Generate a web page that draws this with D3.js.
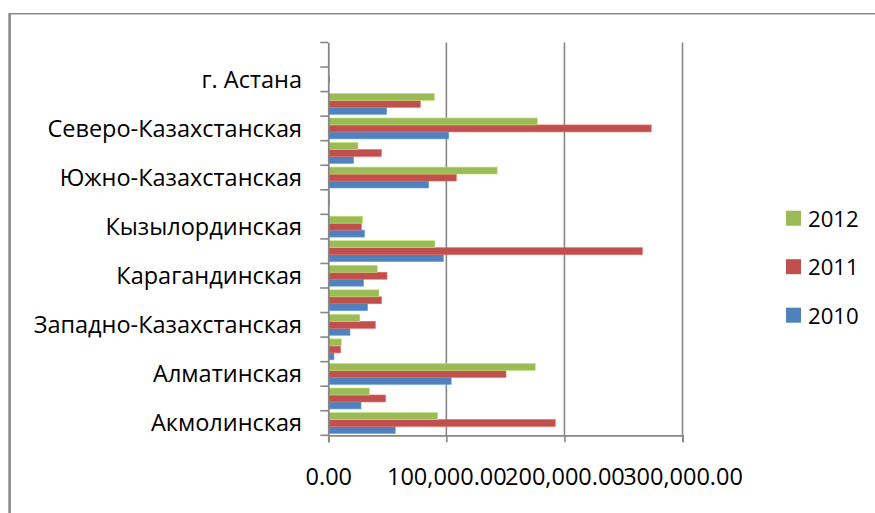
<!DOCTYPE html>
<html>
<head>
<meta charset="utf-8">
<script src="https://cdn.jsdelivr.net/npm/d3@7"></script>
<style>
  html, body { margin: 0; padding: 0; background: #fff; }
  svg { display: block; }
  text { font-family: "Open Sans", "Noto Sans", sans-serif; fill: #000; }
</style>
</head>
<body>
<svg id="chart" width="875" height="513"></svg>
<script>
// Categories, bottom to top (as in the original chart)
const categories = [
  "Акмолинская", "Актюбинская", "Алматинская", "Атырауская",
  "Западно-Казахстанская", "Жамбылская", "Карагандинская", "Костанайская",
  "Кызылординская", "Мангистауская", "Южно-Казахстанская", "Павлодарская",
  "Северо-Казахстанская", "Восточно-Казахстанская", "г. Астана", "г. Алматы"
];
const seriesNames = ["2010", "2011", "2012"];
const values2010 = [56700, 27700, 104100, 4800, 18400, 33300, 29900, 97500, 30700, 300, 85000, 21400, 102000, 49400, 0, 0];
const values2011 = [192200, 48500, 150500, 10400, 39800, 45100, 49700, 266000, 28000, 1000, 108400, 44900, 273500, 77900, 1000, 0];
const values2012 = [92600, 34700, 175300, 11000, 26800, 42900, 41500, 90300, 29000, 1200, 143000, 25100, 177000, 89800, 0, 0];
const xTicks = [0, 100000, 200000, 300000];
const colors = ["#4F81BD", "#C0504D", "#9BBB59"];

const seriesValues = [values2010, values2011, values2012];
const svg = d3.select("#chart");

// outer frame (only top & left visible)
svg.append("line").attr("x1", 9.5).attr("x2", 875).attr("y1", 13.8).attr("y2", 13.8)
  .attr("stroke", "#8c8c8c").attr("stroke-width", 1.6);
svg.append("line").attr("x1", 9.6).attr("x2", 9.6).attr("y1", 13).attr("y2", 513)
  .attr("stroke", "#8c8c8c").attr("stroke-width", 2.6);

const x = d3.scaleLinear().domain([0, 300000]).range([328.3, 682.5]);
const y = d3.scaleBand().domain(categories.slice().reverse()).range([42.5, 435.3]).paddingInner(0).paddingOuter(0);
const inner = d3.scaleBand().domain(["2012", "2011", "2010"]).range([0, y.bandwidth()]).paddingInner(0).paddingOuter(0.26);

const gridColor = "#878787";

// vertical gridlines
svg.append("g").selectAll("line").data(xTicks.slice(1)).join("line")
  .attr("x1", d => x(d)).attr("x2", d => x(d))
  .attr("y1", y.range()[0]).attr("y2", y.range()[1])
  .attr("stroke", gridColor).attr("stroke-width", 1.6);

// bars
const data = [];
categories.forEach((c, i) => {
  seriesNames.forEach((s, j) => data.push({cat: c, series: s, value: seriesValues[j][i], color: colors[j]}));
});
svg.append("g").selectAll("rect").data(data).join("rect")
  .attr("x", x(0))
  .attr("y", d => y(d.cat) + inner(d.series))
  .attr("width", d => Math.max(0, x(d.value) - x(0)))
  .attr("height", inner.bandwidth())
  .attr("fill", d => d.color)
  .attr("stroke", d => d3.color(d.color).brighter(0.6))
  .attr("stroke-width", 0.6);

// y axis
const yAxis = svg.append("g").attr("transform", `translate(${x(0)},0)`)
  .call(d3.axisLeft(y).tickSize(0).tickFormat(""));
yAxis.select(".domain").attr("stroke", gridColor).attr("stroke-width", 1.8);
yAxis.selectAll(".tick").remove();
// y tick marks at band boundaries
const boundaries = d3.range(categories.length + 1).map(k => y.range()[0] + k * y.step());
svg.append("g").selectAll("line").data(boundaries).join("line")
  .attr("x1", x(0) - 8).attr("x2", x(0))
  .attr("y1", d => d).attr("y2", d => d)
  .attr("stroke", gridColor).attr("stroke-width", 1.6);

// category labels (every other one, as in the original)
svg.append("g").selectAll("text").data(categories.filter((c, i) => i % 2 === 0)).join("text")
  .attr("x", 302)
  .attr("y", d => y(d) + y.bandwidth() / 2)
  .attr("dy", "0.35em")
  .attr("text-anchor", "end")
  .style("font-size", "23.5px")
  .text(d => d);

// x axis
const xAxis = svg.append("g").attr("transform", `translate(0,${y.range()[1]})`)
  .call(d3.axisBottom(x).tickValues(xTicks).tickSize(7).tickPadding(26).tickFormat(d3.format(",.2f")));
xAxis.select(".domain").attr("stroke", gridColor).attr("stroke-width", 1.8);
xAxis.selectAll(".tick line").attr("stroke", gridColor).attr("stroke-width", 1.6);
xAxis.selectAll(".tick text").style("font-size", "23.5px").style("font-family", "'Open Sans', 'Noto Sans', sans-serif").attr("fill", "#000");

// legend
const legendItems = ["2012", "2011", "2010"];
const legendColors = {"2010": colors[0], "2011": colors[1], "2012": colors[2]};
const lg = svg.append("g").selectAll("g").data(legendItems).join("g")
  .attr("transform", (d, i) => `translate(786,${210.7 + i * 48.5})`);
lg.append("rect").attr("width", 15).attr("height", 15).attr("fill", d => legendColors[d]);
lg.append("text").attr("x", 22).attr("y", 15.8).style("font-size", "22.2px").text(d => d);
</script>
</body>
</html>
